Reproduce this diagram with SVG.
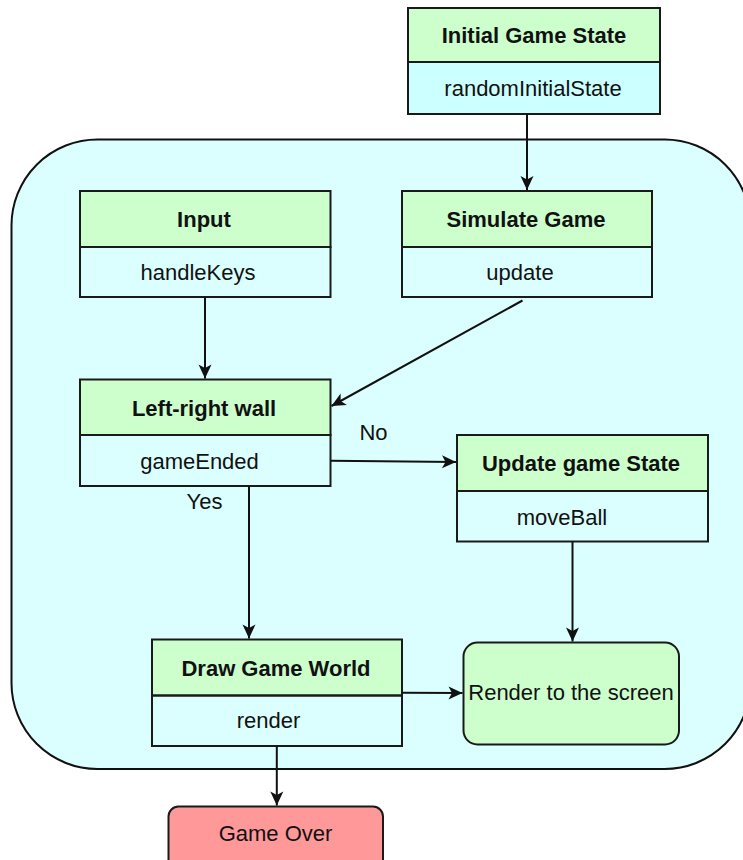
<svg xmlns="http://www.w3.org/2000/svg" width="743" height="860" viewBox="0 0 743 860">
<style>
.box{stroke:#1a1a1a;stroke-width:2}
.hdr{fill:#ccffcc}
.bd{fill:none}
.t{font-family:"Liberation Sans",Arial,sans-serif;font-size:22px;fill:#111;text-anchor:middle}
.b{font-weight:bold}
.c{stroke:#111;stroke-width:2;fill:none;marker-end:url(#ah)}
</style>
<defs>
<marker id="ah" markerUnits="userSpaceOnUse" markerWidth="16" markerHeight="14" refX="15" refY="7" orient="auto">
<path d="M1,0.5 L15,7 L1,13.5 L4.5,7 Z" fill="#111"/>
</marker>
</defs>
<g id="container">
<rect x="11.5" y="139.5" width="739" height="629.5" rx="86" ry="86" fill="#dbffff" stroke="#111" stroke-width="2"/>
</g>
<g id="initial">
<rect class="box" x="408" y="8" width="252" height="54" fill="#ccffcc"/>
<rect class="box" x="408" y="62" width="252" height="52" fill="#ccffff"/>
<text class="t b" x="534" y="43">Initial Game State</text>
<text class="t" x="533" y="96">randomInitialState</text>
</g>
<g id="input">
<rect class="box hdr" x="80" y="191" width="250.5" height="56"/>
<rect class="box bd" x="80" y="247" width="250.5" height="50"/>
<text class="t b" x="204" y="227">Input</text>
<text class="t" x="198" y="280">handleKeys</text>
</g>
<g id="simulate">
<rect class="box hdr" x="402" y="191" width="250" height="56"/>
<rect class="box bd" x="402" y="247" width="250" height="50"/>
<text class="t b" x="526" y="227">Simulate Game</text>
<text class="t" x="520" y="280">update</text>
</g>
<g id="wall">
<rect class="box hdr" x="80" y="379.5" width="250.5" height="55.5"/>
<rect class="box bd" x="80" y="435" width="250.5" height="51"/>
<text class="t b" x="204" y="416">Left-right wall</text>
<text class="t" x="199.5" y="469">gameEnded</text>
</g>
<g id="updatestate">
<rect class="box hdr" x="457" y="435" width="251" height="56"/>
<rect class="box bd" x="457" y="491" width="251" height="50.5"/>
<text class="t b" x="581" y="471">Update game State</text>
<text class="t" x="562" y="525">moveBall</text>
</g>
<g id="draw">
<rect class="box hdr" x="152" y="639.5" width="250" height="56"/>
<rect class="box bd" x="152" y="695.5" width="250" height="50.5"/>
<text class="t b" x="276" y="676">Draw Game World</text>
<text class="t" x="268.5" y="728">render</text>
</g>
<g id="render">
<rect class="box" x="463.5" y="642.5" width="215.5" height="102" rx="14" fill="#ccffcc"/>
<text class="t" x="571" y="700">Render to the screen</text>
</g>
<g id="gameover">
<rect class="box" x="168.5" y="806.5" width="214.5" height="66" rx="10" fill="#ff9999"/>
<text class="t" x="275.5" y="841">Game Over</text>
</g>
<g id="connectors">
<path class="c" d="M527,114 L527,190"/>
<path class="c" d="M205,297 L205,378.5"/>
<path class="c" d="M522.5,300.5 L331.5,406"/>
<path class="c" d="M331,460.7 L456,462"/>
<path class="c" d="M249,486 L249,638.5"/>
<path class="c" d="M572.5,541.5 L572.5,641.5"/>
<path class="c" d="M402,692.7 L462.5,693"/>
<path class="c" d="M276.8,746 L276.8,805.5"/>
<text class="t" x="373.5" y="440">No</text>
<text class="t" x="204.5" y="509">Yes</text>
</g>
</svg>
